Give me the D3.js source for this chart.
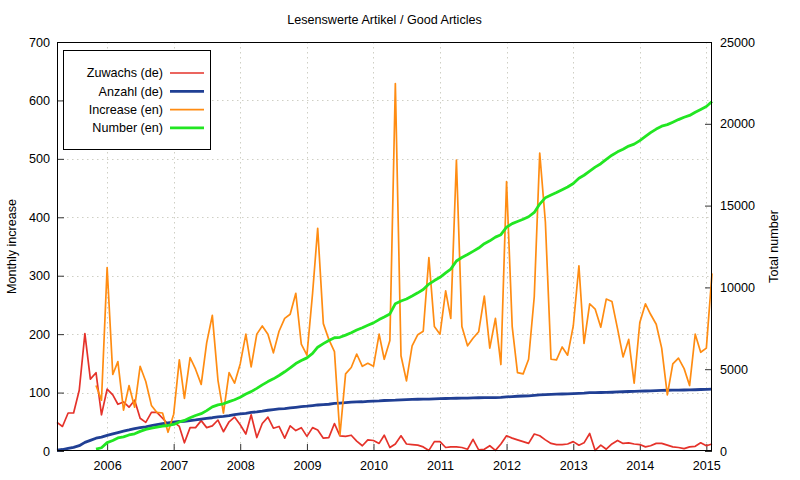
<!DOCTYPE html>
<html><head><meta charset="utf-8">
<script src="https://cdn.jsdelivr.net/npm/d3@7"></script>
<style>
body{margin:0;background:#fff}
text{font-family:"Liberation Sans",Arial,Helvetica,sans-serif}
</style>
</head><body>
<svg id="chart" width="800" height="480"></svg>
<script>
// ---- data ----
const deStart = [2005, 3];   // April 2005 (month index 0-based)
const enStart = [2005, 10];  // November 2005

const zuwachsDe = [49,42,65,65,104,201,123,134,62,106,
  96,80,84,75,87,56,49,66,66,56,
  46,50,42,14,40,40,52,40,43,53,
  33,50,58,45,29,62,23,47,58,39,
  42,22,43,35,40,25,40,36,22,23,
  47,26,25,27,17,9,19,18,13,27,
  6,12,26,12,11,10,7,1,16,16,
  6,7,7,6,3,20,2,3,9,1,
  12,26,22,19,16,13,29,26,19,13,
  11,11,12,16,10,14,30,1,10,3,
  12,18,13,14,12,11,7,9,13,13,
  10,7,6,4,7,8,14,9,12];

const anzahlDe = [49,91,156,221,325,526,649,783,845,951,
  1047,1127,1211,1286,1373,1429,1478,1544,1610,1666,
  1712,1762,1804,1818,1858,1898,1950,1990,2033,2086,
  2119,2169,2227,2272,2301,2363,2386,2433,2491,2530,
  2572,2594,2637,2672,2712,2737,2777,2813,2835,2858,
  2905,2931,2956,2983,3000,3009,3028,3046,3059,3086,
  3092,3104,3130,3142,3153,3163,3170,3171,3187,3203,
  3209,3216,3223,3229,3232,3252,3254,3257,3266,3267,
  3279,3305,3327,3346,3362,3375,3404,3430,3449,3462,
  3473,3484,3496,3512,3522,3536,3566,3567,3577,3580,
  3592,3610,3623,3637,3649,3660,3667,3676,3689,3702,
  3712,3719,3725,3729,3736,3744,3758,3767,3779];

const increaseEn = [112,87,314,131,153,70,112,75,145,119,
  78,66,65,32,63,156,90,160,140,114,
  185,232,121,65,134,116,149,200,144,200,
  214,200,168,205,227,234,270,183,164,270,
  381,218,191,170,27,132,143,166,145,150,
  145,200,157,189,629,163,120,180,199,205,
  331,213,200,274,227,498,213,180,193,204,
  265,176,227,148,461,213,134,132,157,264,
  510,392,157,156,178,164,214,317,184,252,
  243,212,260,256,209,161,191,116,220,252,
  234,217,176,96,149,159,141,112,200,169,
  176,304];

const numberEn = [112,199,513,644,797,867,979,1054,1199,1318,
  1396,1462,1527,1559,1622,1778,1868,2028,2168,2282,
  2467,2699,2820,2885,3019,3135,3284,3484,3628,3828,
  4042,4242,4410,4615,4842,5076,5346,5529,5693,5963,
  6344,6562,6753,6923,6950,7082,7225,7391,7536,7686,
  7831,8031,8188,8377,9006,9169,9289,9469,9668,9873,
  10204,10417,10617,10891,11118,11616,11829,12009,12202,12406,
  12671,12847,13074,13222,13683,13896,14030,14162,14319,14583,
  15093,15485,15642,15798,15976,16140,16354,16671,16855,17107,
  17350,17562,17822,18078,18287,18448,18639,18755,18975,19227,
  19461,19678,19854,19950,20099,20258,20399,20511,20711,20880,
  21056,21360];

const yearTicks = [2006,2007,2008,2009,2010,2011,2012,2013,2014,2015];
const leftTicks = [0,100,200,300,400,500,600,700];
const rightTicks = [0,5000,10000,15000,20000,25000];
const seriesNames = ["Zuwachs (de)","Anzahl (de)","Increase (en)","Number (en)"];
const seriesColors = ["#e5322a","#203f94","#ff8c12","#22e622"];
const seriesWidths = [1.7,2.8,1.7,2.8];

// ---- layout ----
const L = 57, R = 712, T = 42, B = 451;
const FS = 12.6;
const svg = d3.select("#chart");

const toSeries = (start, vals) => vals.map((v,i) => ({d: new Date(start[0], start[1] + i, 1), v}));
const sZ = toSeries(deStart, zuwachsDe);
const sA = toSeries(deStart, anzahlDe);
const sI = toSeries(enStart, increaseEn);
const sN = toSeries(enStart, numberEn);

const x = d3.scaleTime().domain([new Date(2005,3,1), new Date(2015,1,1)]).range([L, R]);
const yL = d3.scaleLinear().domain([0,700]).range([B, T]);
const yR = d3.scaleLinear().domain([0,25000]).range([B, T]);

// grid
const grid = svg.append("g").attr("stroke","#cfcfc4").attr("stroke-width",1).attr("stroke-dasharray","1.5,3.5");
yearTicks.forEach(yr => {
  const xx = Math.round(x(new Date(yr,0,1))) + 0.5;
  grid.append("line").attr("x1",xx).attr("x2",xx).attr("y1",T).attr("y2",B);
});
leftTicks.filter(v => v>0 && v<700).forEach(v => {
  const yy = Math.round(yL(v)) + 0.5;
  grid.append("line").attr("x1",L).attr("x2",R).attr("y1",yy).attr("y2",yy);
});

// axes
const fmtAxis = g => {
  g.select(".domain").remove();
  g.selectAll(".tick line").attr("stroke","#333");
  g.selectAll("text").attr("font-size",FS).attr("fill","#000")
    .style("font-family",'"Liberation Sans",Arial,sans-serif');
};
svg.append("g").attr("transform",`translate(0,${B})`)
  .call(d3.axisBottom(x).tickValues(yearTicks.map(y=>new Date(y,0,1))).tickFormat(d3.timeFormat("%Y")).tickSize(-7).tickPadding(10))
  .call(fmtAxis);
svg.append("g").attr("transform",`translate(${L},0)`)
  .call(d3.axisLeft(yL).tickValues(leftTicks).tickFormat(d3.format("d")).tickSize(-7).tickPadding(7))
  .call(fmtAxis);
svg.append("g").attr("transform",`translate(${R},0)`)
  .call(d3.axisRight(yR).tickValues(rightTicks).tickFormat(d3.format("d")).tickSize(-7).tickPadding(8))
  .call(fmtAxis);

// lines
const lineL = d3.line().x(p=>x(p.d)).y(p=>yL(p.v));
const lineR = d3.line().x(p=>x(p.d)).y(p=>yR(p.v));
const plot = svg.append("g").attr("fill","none").attr("stroke-linejoin","round");
plot.append("path").datum(sZ).attr("d",lineL).attr("stroke",seriesColors[0]).attr("stroke-width",seriesWidths[0]);
plot.append("path").datum(sA).attr("d",lineR).attr("stroke",seriesColors[1]).attr("stroke-width",seriesWidths[1]);
plot.append("path").datum(sI).attr("d",lineL).attr("stroke",seriesColors[2]).attr("stroke-width",seriesWidths[2]);
plot.append("path").datum(sN).attr("d",lineR).attr("stroke",seriesColors[3]).attr("stroke-width",seriesWidths[3]);

// border
svg.append("rect").attr("x",L+0.5).attr("y",T+0.5).attr("width",R-L-1).attr("height",B-T-1)
  .attr("fill","none").attr("stroke","#000").attr("stroke-width",1);

// title and axis labels
svg.append("text").attr("x",(L+R)/2).attr("y",24).attr("text-anchor","middle").attr("font-size",FS)
  .text("Lesenswerte Artikel / Good Articles");
svg.append("text").attr("transform",`translate(16,${(T+B)/2}) rotate(-90)`).attr("text-anchor","middle")
  .attr("font-size",FS).text("Monthly increase");
svg.append("text").attr("transform",`translate(778,${(T+B)/2}) rotate(-90)`).attr("text-anchor","middle")
  .attr("font-size",FS).text("Total number");

// legend
const lg = svg.append("g");
lg.append("rect").attr("x",63.5).attr("y",50.5).attr("width",147).attr("height",99)
  .attr("fill","#fff").attr("stroke","#000").attr("stroke-width",1);
seriesNames.forEach((n,i) => {
  const yy = 73 + i*18.3;
  lg.append("text").attr("x",163).attr("y",yy).attr("dy","0.35em").attr("text-anchor","end")
    .attr("font-size",FS).text(n);
  lg.append("line").attr("x1",170).attr("x2",204).attr("y1",yy).attr("y2",yy)
    .attr("stroke",seriesColors[i]).attr("stroke-width",seriesWidths[i]);
});
</script>
</body></html>
